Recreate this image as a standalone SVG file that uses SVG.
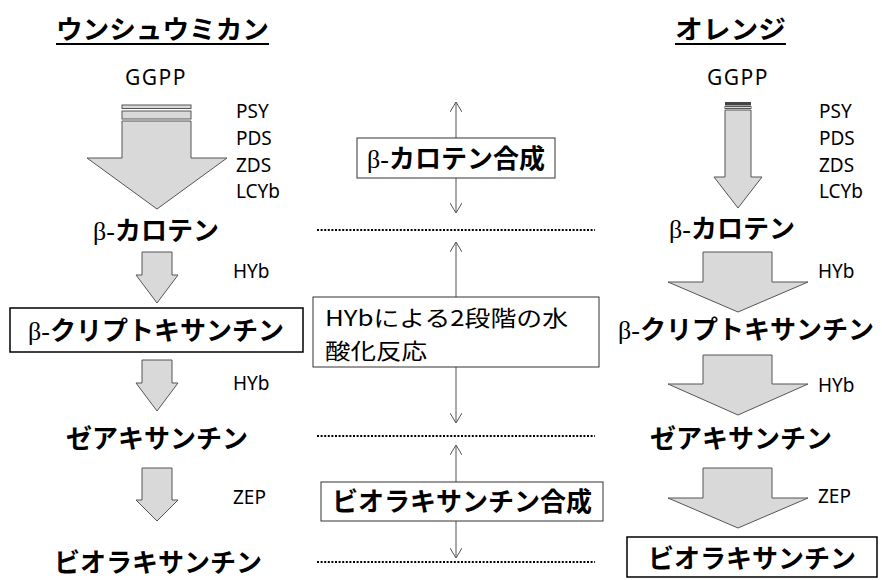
<svg xmlns="http://www.w3.org/2000/svg" width="882" height="580" viewBox="0 0 882 580">
<defs>
<style>
.jp{font-family:"Noto Sans CJK JP",sans-serif;font-weight:bold;font-size:26px;fill:#000}
.jpn{font-family:"Noto Sans CJK JP",sans-serif;font-weight:normal;font-size:22px;fill:#000}
.b{font-family:"Liberation Serif",serif;font-weight:normal}
.en{font-family:"Noto Sans","Open Sans",sans-serif;font-size:19px;fill:#000}
.gg{font-family:"Noto Sans","Open Sans",sans-serif;font-size:21px;letter-spacing:1.5px;fill:#000}
.ar{fill:#d9d9d9;stroke:#555;stroke-width:1}
.box{fill:#fff;stroke:#000;stroke-width:1.5}
.mbox{fill:#fff;stroke:#333;stroke-width:1}
.dot{stroke:#000;stroke-width:2;stroke-dasharray:2 1.6;fill:none}
.da{stroke:#555;stroke-width:1;fill:none;marker-start:url(#h);marker-end:url(#h)}
.ul{stroke:#000;stroke-width:2}
</style>
<marker id="h" viewBox="0 0 10 12" refX="10" refY="6" markerWidth="10" markerHeight="12" markerUnits="userSpaceOnUse" orient="auto-start-reverse">
<path d="M0,0 L10,6 L0,12" fill="none" stroke="#555" stroke-width="1"/>
</marker>
</defs>
<rect width="882" height="580" fill="#fff"/>

<g id="title-left">
<text class="jp" x="56" y="39" textLength="213" lengthAdjust="spacingAndGlyphs">ウンシュウミカン</text>
<line class="ul" x1="56" y1="44" x2="269" y2="44"/>
</g>
<g id="title-right">
<text class="jp" x="675" y="39" textLength="111" lengthAdjust="spacingAndGlyphs">オレンジ</text>
<line class="ul" x1="675" y1="44" x2="786" y2="44"/>
</g>

<g id="connectors">
<line class="dot" x1="317" y1="230" x2="595" y2="230"/>
<line class="dot" x1="317" y1="436" x2="595" y2="436"/>
<line class="dot" x1="317" y1="562" x2="595" y2="562"/>
<line class="da" x1="456" y1="102" x2="456" y2="213"/>
<line class="da" x1="456" y1="242" x2="456" y2="423"/>
<line class="da" x1="456" y1="445" x2="456" y2="558"/>
</g>

<!-- left column -->
<g id="left-ggpp">
<text class="gg" x="156" y="85" text-anchor="middle">GGPP</text>
</g>
<g id="left-arrow-main">
<rect class="ar" x="122" y="105" width="69" height="3.5"/>
<rect class="ar" x="122" y="111" width="69" height="8"/>
<path class="ar" d="M122,121 H191 V158 H227 L157,209 L87,158 H122 Z"/>
<text class="en" x="236" y="118">PSY</text>
<text class="en" x="236" y="145">PDS</text>
<text class="en" x="236" y="172">ZDS</text>
<text class="en" x="236" y="198">LCYb</text>
</g>
<g id="left-bcarotene">
<text class="jp" x="156" y="240" text-anchor="middle"><tspan class="b">β-</tspan>カロテン</text>
</g>
<g id="left-arrow-hyb1">
<path class="ar" d="M142,252 H172 V275 H178 L157,303 L136,275 H142 Z"/>
<text class="en" x="233" y="278">HYb</text>
</g>
<g id="left-bcrypto">
<rect class="box" x="10" y="308" width="293" height="44"/>
<text class="jp" x="156" y="340" text-anchor="middle"><tspan class="b">β-</tspan>クリプトキサンチン</text>
</g>
<g id="left-arrow-hyb2">
<path class="ar" d="M142,360 H172 V383 H178 L157,411 L136,383 H142 Z"/>
<text class="en" x="233" y="390">HYb</text>
</g>
<g id="left-zea">
<text class="jp" x="157" y="448" text-anchor="middle">ゼアキサンチン</text>
</g>
<g id="left-arrow-zep">
<path class="ar" d="M142,468 H172 V500 H178 L157,521 L136,500 H142 Z"/>
<text class="en" x="233" y="504">ZEP</text>
</g>
<g id="left-viola">
<text class="jp" x="158" y="572" text-anchor="middle">ビオラキサンチン</text>
</g>

<!-- middle -->
<g id="mid-bcarotene">
<rect class="mbox" x="357" y="138" width="198" height="40"/>
<text class="jp" x="456" y="168" text-anchor="middle"><tspan class="b">β-</tspan>カロテン合成</text>
</g>
<g id="mid-hyb">
<rect class="mbox" x="313" y="297" width="286" height="70"/>
<text class="jpn" x="325" y="326" textLength="243" lengthAdjust="spacingAndGlyphs">HYbによる2段階の水</text>
<text class="jpn" x="325" y="358.5" textLength="102" lengthAdjust="spacingAndGlyphs">酸化反応</text>
</g>
<g id="mid-viola">
<rect class="mbox" x="321" y="482" width="282" height="39"/>
<text class="jp" x="462" y="511" text-anchor="middle">ビオラキサンチン合成</text>
</g>

<!-- right column -->
<g id="right-ggpp">
<text class="gg" x="738" y="85" text-anchor="middle">GGPP</text>
</g>
<g id="right-arrow-main">
<rect x="725" y="102" width="26" height="3.5" fill="#444"/>
<rect class="ar" x="725" y="106.5" width="26" height="2"/>
<path class="ar" d="M725,110 H751 V177 H762 L738,208 L714,177 H725 Z"/>
<text class="en" x="819" y="118">PSY</text>
<text class="en" x="819" y="145">PDS</text>
<text class="en" x="819" y="172">ZDS</text>
<text class="en" x="819" y="198">LCYb</text>
</g>
<g id="right-bcarotene">
<text class="jp" x="732" y="238" text-anchor="middle"><tspan class="b">β-</tspan>カロテン</text>
</g>
<g id="right-arrow-hyb1">
<path class="ar" d="M703,252 H772 V282 H808 L738,312 L668,282 H703 Z"/>
<text class="en" x="818" y="278">HYb</text>
</g>
<g id="right-bcrypto">
<text class="jp" x="746" y="339" text-anchor="middle"><tspan class="b">β-</tspan>クリプトキサンチン</text>
</g>
<g id="right-arrow-hyb2">
<path class="ar" d="M703,355 H772 V384 H808 L738,415 L668,384 H703 Z"/>
<text class="en" x="818" y="392">HYb</text>
</g>
<g id="right-zea">
<text class="jp" x="741" y="448" text-anchor="middle">ゼアキサンチン</text>
</g>
<g id="right-arrow-zep">
<path class="ar" d="M703,468 H772 V498 H808 L738,528 L668,498 H703 Z"/>
<text class="en" x="818" y="503">ZEP</text>
</g>
<g id="right-viola">
<rect class="box" x="627" y="537" width="250" height="40"/>
<text class="jp" x="752" y="568" text-anchor="middle">ビオラキサンチン</text>
</g>
</svg>
